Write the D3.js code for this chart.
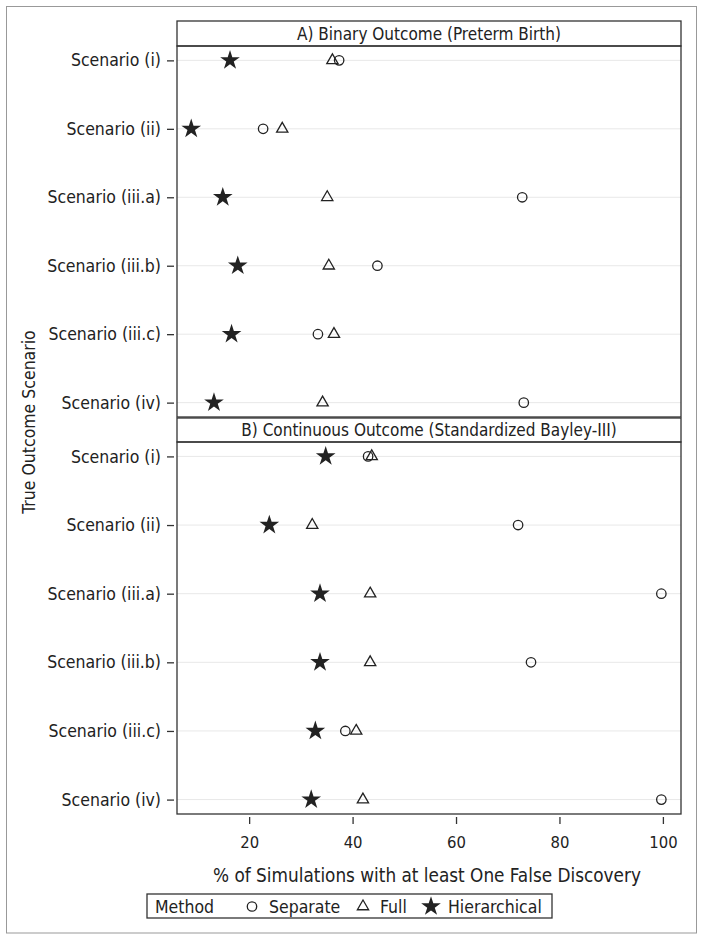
<!DOCTYPE html>
<html><head><meta charset="utf-8">
<script src="https://cdn.jsdelivr.net/npm/d3@7"></script>
<style>body{margin:0;background:#fff}
svg text{font-family:"DejaVu Sans Condensed","DejaVu Sans",sans-serif;font-stretch:condensed;fill:#222}</style>
</head><body><svg id="c" width="704" height="940"></svg>
<script>
const scenarios = ["Scenario (i)","Scenario (ii)","Scenario (iii.a)","Scenario (iii.b)","Scenario (iii.c)","Scenario (iv)"];
const panelTitles = ["A) Binary Outcome (Preterm Birth)","B) Continuous Outcome (Standardized Bayley-III)"];
const methods = ["Separate","Full","Hierarchical"];
// Panel A values (% simulations with at least one false discovery)
const binarySeparate = [37.4,22.7,72.8,44.8,33.3,73.1];
const binaryFull = [36.1,26.4,35.1,35.4,36.4,34.2];
const binaryHier = [16.3,8.8,14.9,17.8,16.6,13.2];
// Panel B values
const contSeparate = [43.0,72.0,99.7,74.5,38.6,99.7];
const contFull = [43.7,32.2,43.4,43.4,40.7,42.0];
const contHier = [34.8,23.9,33.7,33.7,32.8,32.0];
const xTicks = [20,40,60,80,100];

const svg = d3.select("#c");
svg.append("rect").attr("x",6.5).attr("y",6.5).attr("width",690).attr("height",926.5)
  .attr("fill","none").attr("stroke","#999").attr("stroke-width",1);

const L=177, R=681;
const x = d3.scaleLinear().domain([6.05,103.5]).range([L,R]);
const panels = [
  {title:panelTitles[0], hy:21, top:46, bot:417, data:[binarySeparate,binaryFull,binaryHier]},
  {title:panelTitles[1], hy:418, top:442, bot:814, data:[contSeparate,contFull,contHier]}
];
const symFor = {
  Separate: d3.symbol().type(d3.symbolCircle).size(70),
  Full: d3.symbol().type(d3.symbolTriangle).size(55),
  Hierarchical: d3.symbol().type(d3.symbolStar).size(120)
};
function drawSym(g, m, cx, cy){
  const p = g.append("path").attr("d", symFor[m]()).attr("transform",`translate(${cx},${cy})`);
  if(m==="Hierarchical") p.attr("fill","#222").attr("stroke","none");
  else p.attr("fill","none").attr("stroke","#222").attr("stroke-width",1.3);
}

panels.forEach(p=>{
  svg.append("rect").attr("x",L).attr("y",p.hy).attr("width",R-L).attr("height",p.top-p.hy)
    .attr("fill","#fff").attr("stroke","#333").attr("stroke-width",1.3);
  svg.append("text").attr("x",(L+R)/2).attr("y",(p.hy+p.top)/2+6).attr("text-anchor","middle")
    .attr("font-size",17).text(p.title);
  const y = d3.scalePoint().domain(scenarios).range([p.top,p.bot]).padding(0.21);
  const g = svg.append("g");
  g.selectAll("line.grid").data(scenarios).join("line").attr("class","grid")
    .attr("x1",L).attr("x2",R).attr("y1",d=>y(d)).attr("y2",d=>y(d))
    .attr("stroke","#e8e8e8").attr("stroke-width",1);
  const ya = svg.append("g").attr("transform",`translate(${L-3},0)`)
    .call(d3.axisLeft(y).tickSize(7).tickPadding(6));
  ya.select(".domain").remove();
  ya.selectAll("line").attr("stroke","#333").attr("stroke-width",1.3);
  ya.selectAll("text").attr("font-size",17.5).attr("fill","#222").attr("font-family",null);
  methods.forEach((m,mi)=>{
    p.data[mi].forEach((v,i)=>drawSym(g,m,x(v),y(scenarios[i])));
  });
  svg.append("rect").attr("x",L).attr("y",p.top).attr("width",R-L).attr("height",p.bot-p.top)
    .attr("fill","none").attr("stroke","#333").attr("stroke-width",1.3);
});

const xa = svg.append("g").attr("transform",`translate(0,817)`)
  .call(d3.axisBottom(x).tickValues(xTicks).tickSize(7).tickPadding(12));
xa.select(".domain").remove();
xa.selectAll("line").attr("stroke","#333").attr("stroke-width",1.3);
xa.selectAll("text").attr("font-size",16.5).attr("fill","#222").attr("font-family",null);

svg.append("text").attr("x",427).attr("y",882).attr("text-anchor","middle").attr("font-size",18.8)
  .text("% of Simulations with at least One False Discovery");
svg.append("text").attr("transform","translate(35,422) rotate(-90)").attr("text-anchor","middle")
  .attr("font-size",17.5).text("True Outcome Scenario");

const lg = svg.append("g");
lg.append("rect").attr("x",147).attr("y",894).attr("width",405).attr("height",24)
  .attr("fill","#fff").attr("stroke","#333").attr("stroke-width",1.3);
lg.append("text").attr("x",155).attr("y",913).attr("font-size",17.5).text("Method");
const legPos = [{m:"Separate",sx:252,tx:269},{m:"Full",sx:363,tx:380},{m:"Hierarchical",sx:431,tx:448}];
legPos.forEach(d=>{
  drawSym(lg,d.m,d.sx,906.5);
  lg.append("text").attr("x",d.tx).attr("y",913).attr("font-size",17.5).text(d.m);
});
</script></body></html>
